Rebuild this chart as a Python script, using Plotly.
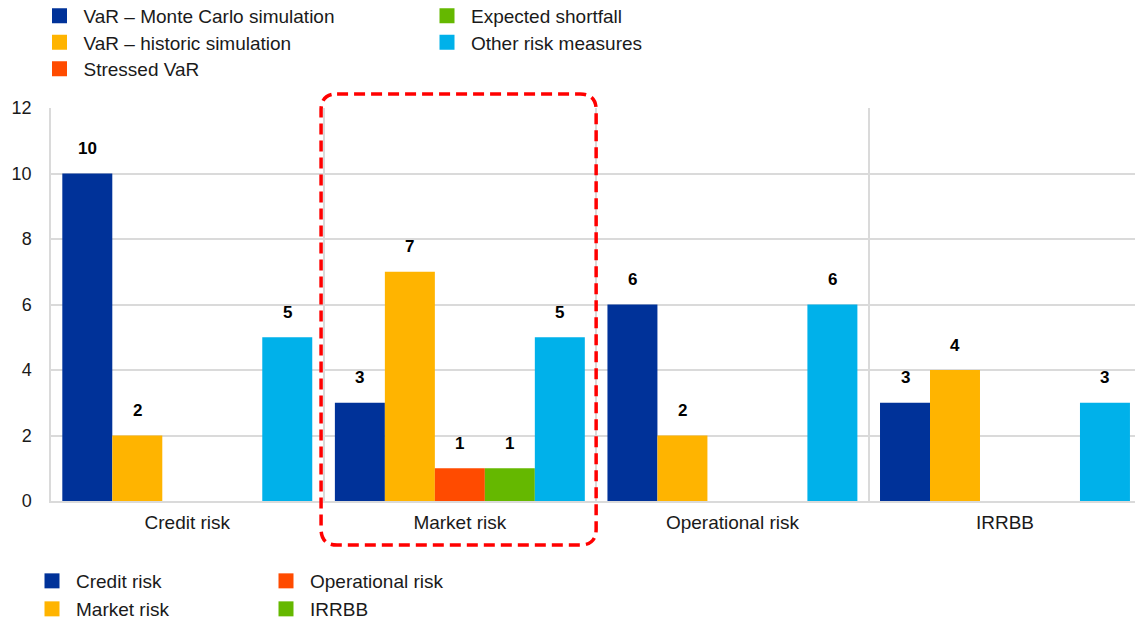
import plotly.graph_objects as go

# Survey results: number of banks using each risk measure, by risk type
categories = ["Credit risk", "Market risk", "Operational risk", "IRRBB"]
var_monte_carlo = [10, 3, 6, 3]
var_historic = [2, 7, 2, 4]
stressed_var = [0, 1, 0, 0]
expected_shortfall = [0, 1, 0, 0]
other_measures = [5, 5, 6, 3]
y_ticks = [0, 2, 4, 6, 8, 10, 12]
lower_legend_labels = ["Credit risk", "Market risk", "Operational risk", "IRRBB"]

series_names = ["VaR – Monte Carlo simulation", "VaR – historic simulation",
                "Stressed VaR", "Expected shortfall", "Other risk measures"]
series_values = [var_monte_carlo, var_historic, stressed_var, expected_shortfall, other_measures]
series_colors = ["#003299", "#ffb400", "#ff4b00", "#65b800", "#00b1ea"]
lower_colors = ["#003299", "#ffb400", "#ff4b00", "#65b800"]

# legend key placement (left edge / row centre, in page pixels)
top_key_pos = [(35.5, 15.8), (35.5, 42.5), (35.5, 69), (423, 15.8), (423, 42.5)]
low_key_pos = [(28, 581), (28, 609), (262, 581), (262, 609)]

FONT = "Liberation Sans, Arial, sans-serif"
TEXT = "#1a1a1a"
W, H = 1135, 620
M_L, M_R, M_T, M_B = 51, 0, 108, 119
BARGAP = 0.083
X_RANGE = [-0.5, 3.477]
GRID = "#dadada"
KEY_SIZE = 15
ROW_OFFSET = 19  # legend top to row centre

plot_w = W - M_L - M_R
plot_h = H - M_T - M_B

fig = go.Figure()

for name, vals, color in zip(series_names, series_values, series_colors):
    fig.add_trace(go.Bar(
        x=categories, y=vals, name=name, marker=dict(color=color, line_width=0),
        legendgroup=name, showlegend=False, hoverinfo="x+y+name",
    ))

legend_style = dict(
    xref="container", yref="paper", xanchor="left", yanchor="top",
    orientation="v", bgcolor="rgba(0,0,0,0)", borderwidth=0, itemwidth=38,
    font=dict(family=FONT, size=19, color=TEXT), tracegroupgap=0,
    itemclick=False, itemdoubleclick=False,
)
legends = {}
k = 0


def add_key(name, color, group, pos):
    global k
    k += 1
    lg = "legend" if k == 1 else f"legend{k}"
    fig.add_trace(go.Scatter(
        x=[None], y=[None], mode="markers", name=name, legend=lg, legendgroup=group,
        marker=dict(symbol="square", size=KEY_SIZE, color=color),
    ))
    top_px = pos[1] - ROW_OFFSET
    legends[lg] = dict(**legend_style, x=pos[0] / W, y=(H - M_B - top_px) / plot_h)


for name, color, pos in zip(series_names, series_colors, top_key_pos):
    add_key(name, color, name, pos)
for name, color, pos in zip(lower_legend_labels, lower_colors, low_key_pos):
    add_key(name, color, "low_" + name, pos)

# value labels above every non-zero bar
n = len(series_names)
bw = (1 - BARGAP) / n
annotations = []
for i, vals in enumerate(series_values):
    for ci, v in enumerate(vals):
        if v:
            annotations.append(dict(
                x=ci + (i - (n - 1) / 2) * bw, y=v, xref="x", yref="y",
                text=str(v), showarrow=False, yanchor="middle", yshift=25,
                font=dict(family=FONT, size=17, color="#000000", weight="bold"),
            ))

# dashed highlight around the market risk group
unit_px = plot_w / (X_RANGE[1] - X_RANGE[0])
hi = categories.index("Market risk")
x0 = ((hi - 0.5) - X_RANGE[0]) * unit_px - 2.5
x1 = ((hi + 0.5) - X_RANGE[0]) * unit_px
y_top_px, y_bot_px = 94, 545
y1 = (H - M_B - y_top_px) / plot_h
y0 = (H - M_B - y_bot_px) / plot_h
x0p, x1p = x0 / plot_w, x1 / plot_w
r = 16
rx, ry = r / plot_w, r / plot_h
path = (f"M {x0p+rx},{y1} L {x1p-rx},{y1} Q {x1p},{y1} {x1p},{y1-ry} "
        f"L {x1p},{y0+ry} Q {x1p},{y0} {x1p-rx},{y0} L {x0p+rx},{y0} "
        f"Q {x0p},{y0} {x0p},{y0+ry} L {x0p},{y1-ry} Q {x0p},{y1} {x0p+rx},{y1} Z")
fig.add_shape(type="path", path=path, xref="paper", yref="paper",
              line=dict(color="#ff0000", width=3.5, dash="11px,6px"), layer="above")

fig.update_layout(
    width=W, height=H,
    margin=dict(l=M_L, r=M_R, t=M_T, b=M_B, autoexpand=False),
    paper_bgcolor="white", plot_bgcolor="white",
    barmode="group", bargap=BARGAP, bargroupgap=0,
    font=dict(family=FONT, size=19, color=TEXT),
    showlegend=True,
    xaxis=dict(
        type="category", range=X_RANGE, tickson="boundaries", ticks="",
        showgrid=True, gridcolor=GRID, gridwidth=1.5,
        showline=True, linecolor=GRID, linewidth=1.5,
        ticklabelstandoff=3,
        tickfont=dict(family=FONT, size=19, color=TEXT),
        fixedrange=True,
    ),
    yaxis=dict(
        range=[0, 12], tickvals=y_ticks, showgrid=True, gridcolor=GRID, gridwidth=1.5,
        showline=True, linecolor=GRID, linewidth=1.5, zeroline=False,
        ticks="", ticklabelstandoff=14,
        tickfont=dict(family=FONT, size=18, color=TEXT),
        fixedrange=True,
    ),
    annotations=annotations,
    **legends,
)

fig.write_html("out.html", config={"displayModeBar": False})
